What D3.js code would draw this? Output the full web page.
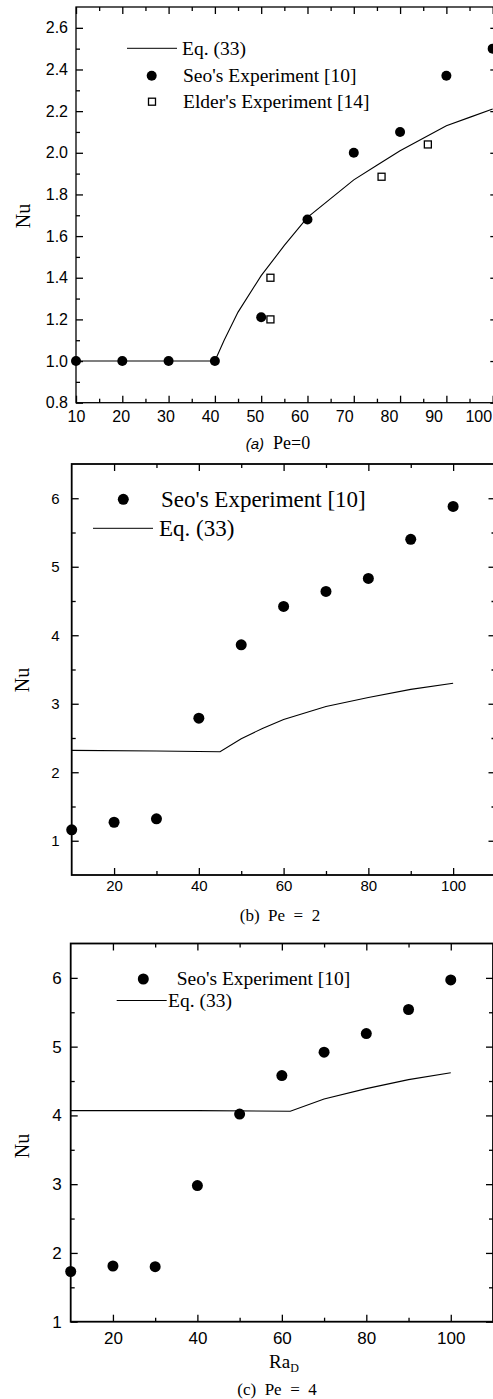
<!DOCTYPE html>
<html>
<head>
<meta charset="utf-8">
<script src="https://cdn.jsdelivr.net/npm/d3@7"></script>
<style>
  body { margin: 0; background: #fff; }
  .serif { font-family: "Liberation Serif", "Times New Roman", serif; }
  .tick text { font-family: "Liberation Sans", Arial, sans-serif; fill: #000; }
</style>
</head>
<body>
<script>
// Values.

// Seo's experiment is sampled at the same Ra_D in all three panels.
var raSeo = [10, 20, 30, 40, 50, 60, 70, 80, 90, 100];

// (a) Pe = 0
var seoA = [1.0, 1.0, 1.0, 1.0, 1.21, 1.68, 2.0, 2.1, 2.37, 2.5];
var elderRaA = [52, 52, 76, 86],
    elderNuA = [1.4, 1.2, 1.885, 2.04];
var eqRaA = [10, 40, 42, 45, 50, 55, 60, 65, 70, 75, 80, 85, 90, 95, 100],
    eqNuA = [1.0, 1.0, 1.1, 1.235, 1.41, 1.555, 1.69, 1.78, 1.87, 1.94, 2.01, 2.07, 2.13, 2.17, 2.21];

// (b) Pe = 2
var seoB = [1.16, 1.27, 1.32, 2.79, 3.86, 4.42, 4.64, 4.83, 5.4, 5.88];
var eqRaB = [10, 30, 45, 50, 55, 60, 70, 80, 90, 100],
    eqNuB = [2.32, 2.31, 2.3, 2.49, 2.64, 2.77, 2.96, 3.09, 3.21, 3.3];

// (c) Pe = 4
var seoC = [1.73, 1.81, 1.8, 2.98, 4.02, 4.58, 4.92, 5.19, 5.54, 5.97];
var eqRaC = [10, 40, 62, 70, 80, 90, 100],
    eqNuC = [4.07, 4.07, 4.06, 4.24, 4.39, 4.52, 4.62];

// Tick values
var xMajorA = [10, 20, 30, 40, 50, 60, 70, 80, 90, 100],
    xMinorA = [15, 25, 35, 45, 55, 65, 75, 85, 95],
    yMajorA = [0.8, 1.0, 1.2, 1.4, 1.6, 1.8, 2.0, 2.2, 2.4, 2.6],
    yMinorA = [0.9, 1.1, 1.3, 1.5, 1.7, 1.9, 2.1, 2.3, 2.5];
var xMajorBC = [20, 40, 60, 80, 100],
    xMinorBC = [30, 50, 70, 90],
    yMajorBC = [1, 2, 3, 4, 5, 6],
    yMinorB = [1.5, 2.5, 3.5, 4.5, 5.5],
    yMinorC = [1.5, 2.5, 3.5, 4.5, 5.5];

function pairs(xs, ys) {
  return xs.map(function(x, i) { return [x, ys[i]]; });
}

// Panel layouts (pixel positions only, data comes from the arrays above).
var panels = [
  {
    xDom: [10, 101], xRange: [76, 497.3],
    yDom: [0.8, 2.7], yRange: [402.7, 7],
    xMajor: xMajorA, xMinor: xMinorA, yMajor: yMajorA, yMinor: yMinorA,
    yFmt: d3.format('.1f'), tickFont: 16, xPad: 8, yPad: 8, r: 5, frame: 1.3,
    // the scanned labels drift left of their ticks a little
    labelDx: function(d) { return -(d - 10) * 0.16; },
    seo: pairs(raSeo, seoA), elder: pairs(elderRaA, elderNuA), eq: pairs(eqRaA, eqNuA),
    legendFont: 19.5,
    legend: [
      { type: 'line', x: 127, x2: 177, y: 48.3, tx: 182, label: 'Eq. (33)' },
      { type: 'dot', x: 151.7, y: 75.7, tx: 183, label: "Seo's Experiment [10]" },
      { type: 'square', x: 152, y: 101.7, tx: 183, label: "Elder's Experiment [14]" }
    ],
    nu: [23, 216],
    caption: { x: 278, y: 449, italic: '(a)', rest: '  Pe=0', size: 18 }
  },
  {
    xDom: [10, 110], xRange: [71.7, 495.5],
    yDom: [0.5, 6.5], yRange: [875, 464],
    xMajor: xMajorBC, xMinor: xMinorBC, yMajor: yMajorBC, yMinor: yMinorB,
    yFmt: d3.format('d'), tickFont: 15, xPad: 5, yPad: 12, r: 5.5, frame: 1.8,
    seo: pairs(raSeo, seoB), eq: pairs(eqRaB, eqNuB),
    legendFont: 23,
    legend: [
      { type: 'dot', x: 123.3, y: 499.3, tx: 161, label: "Seo's Experiment [10]" },
      { type: 'line', x: 93, x2: 153, y: 528.3, tx: 159, label: 'Eq. (33)' }
    ],
    nu: [22, 680],
    caption: { x: 280, y: 921, text: '(b)  Pe  =  2', size: 17 }
  },
  {
    xDom: [10, 110], xRange: [70.7, 493],
    yDom: [1, 6.5], yRange: [1321.7, 943.5],
    xMajor: xMajorBC, xMinor: xMinorBC, yMajor: yMajorBC, yMinor: yMinorC,
    yFmt: d3.format('d'), tickFont: 17, xPad: 10, yPad: 9, r: 5.5, frame: 1.8,
    seo: pairs(raSeo, seoC), eq: pairs(eqRaC, eqNuC),
    legendFont: 19.5,
    legend: [
      { type: 'dot', x: 143.3, y: 979, tx: 176.7, label: "Seo's Experiment [10]" },
      { type: 'line', x: 116.7, x2: 166.7, y: 1000.5, tx: 168, label: 'Eq. (33)' }
    ],
    nu: [22, 1146],
    xLabel: { x: 284, y: 1368 },
    caption: { x: 277, y: 1395, text: '(c)  Pe  =  4', size: 17 }
  }
];

var svg = d3.select('body').append('svg')
  .attr('width', 493)
  .attr('height', 1399)
  .style('background', '#fff');

panels.forEach(function(p) {
  var x = d3.scaleLinear().domain(p.xDom).range(p.xRange),
      y = d3.scaleLinear().domain(p.yDom).range(p.yRange);

  var x0 = p.xRange[0], x1 = p.xRange[1],
      y0 = p.yRange[0], y1 = p.yRange[1];

  var g = svg.append('g');

  // the frame
  g.append('rect')
    .attr('x', x0).attr('y', y1)
    .attr('width', x1 - x0).attr('height', y0 - y1)
    .attr('fill', 'none').attr('stroke', '#000').attr('stroke-width', p.frame);

  // ticks all point inward; labels only on bottom and left
  function ax(axis, tx, ty, vals, size, fmt, pad) {
    var a = g.append('g')
      .attr('transform', 'translate(' + tx + ',' + ty + ')')
      .call(axis.tickValues(vals).tickSize(size).tickPadding(pad || 0)
        .tickFormat(fmt || ''));
    a.select('.domain').remove();
    a.selectAll('line').attr('stroke', '#000').attr('stroke-width', 1.3);
    a.selectAll('text').style('font-size', p.tickFont + 'px');
    return a;
  }

  var bottom = ax(d3.axisBottom(x), 0, y0, p.xMajor, -7, d3.format('d'), p.xPad);
  if (p.labelDx) bottom.selectAll('text').attr('dx', p.labelDx);
  ax(d3.axisBottom(x), 0, y0, p.xMinor, -4);
  ax(d3.axisTop(x), 0, y1, p.xMajor, -7);
  ax(d3.axisTop(x), 0, y1, p.xMinor, -4);
  ax(d3.axisLeft(y), x0, 0, p.yMajor, -7, p.yFmt, p.yPad);
  ax(d3.axisLeft(y), x0, 0, p.yMinor, -4);
  ax(d3.axisRight(y), x1, 0, p.yMajor, -7);
  ax(d3.axisRight(y), x1, 0, p.yMinor, -4);

  // Eq. (33) curve
  var line = d3.line()
    .x(function(d) { return x(d[0]); })
    .y(function(d) { return y(d[1]); });

  g.append('path')
    .datum(p.eq)
    .attr('d', line)
    .attr('fill', 'none')
    .attr('stroke', '#000')
    .attr('stroke-width', 1.1);

  // Elder's experiment (open squares)
  if (p.elder) {
    g.selectAll('rect.elder')
      .data(p.elder)
      .enter().append('rect')
      .attr('class', 'elder')
      .attr('x', function(d) { return x(d[0]) - 3.5; })
      .attr('y', function(d) { return y(d[1]) - 3.5; })
      .attr('width', 7).attr('height', 7)
      .attr('fill', '#fff').attr('stroke', '#000').attr('stroke-width', 1.3);
  }

  // Seo's experiment (filled circles)
  g.selectAll('circle.seo')
    .data(p.seo)
    .enter().append('circle')
    .attr('class', 'seo')
    .attr('cx', function(d) { return x(d[0]); })
    .attr('cy', function(d) { return y(d[1]); })
    .attr('r', p.r)
    .attr('fill', '#000');

  // legend
  p.legend.forEach(function(l) {
    if (l.type === 'line') {
      g.append('line')
        .attr('x1', l.x).attr('x2', l.x2).attr('y1', l.y).attr('y2', l.y)
        .attr('stroke', '#000').attr('stroke-width', 1);
    } else if (l.type === 'dot') {
      g.append('circle').attr('cx', l.x).attr('cy', l.y).attr('r', p.r).attr('fill', '#000');
    } else {
      g.append('rect')
        .attr('x', l.x - 3.5).attr('y', l.y - 3.5).attr('width', 7).attr('height', 7)
        .attr('fill', '#fff').attr('stroke', '#000').attr('stroke-width', 1.3);
    }
    g.append('text')
      .attr('class', 'serif')
      .attr('x', l.tx)
      .attr('y', l.y + p.legendFont * 0.33)
      .style('font-size', p.legendFont + 'px')
      .text(l.label);
  });

  // y axis title
  g.append('text')
    .attr('class', 'serif')
    .attr('transform', 'translate(' + (p.nu[0] + 7) + ',' + p.nu[1] + ') rotate(-90)')
    .attr('text-anchor', 'middle')
    .style('font-size', '20px')
    .text('Nu');

  // x axis title (bottom panel only)
  if (p.xLabel) {
    var t = g.append('text')
      .attr('class', 'serif')
      .attr('x', p.xLabel.x)
      .attr('y', p.xLabel.y)
      .attr('text-anchor', 'middle')
      .style('font-size', '19px');
    t.append('tspan').text('Ra');
    t.append('tspan').attr('dy', 4).style('font-size', '12px').text('D');
  }

  // caption under each panel
  var c = g.append('text')
    .attr('class', 'serif')
    .attr('x', p.caption.x)
    .attr('y', p.caption.y)
    .attr('text-anchor', 'middle')
    .attr('xml:space', 'preserve')
    .style('white-space', 'pre')
    .style('font-size', p.caption.size + 'px');
  if (p.caption.italic) {
    c.append('tspan')
      .style('font-family', '"Liberation Sans", Arial, sans-serif')
      .style('font-style', 'italic')
      .style('font-size', '15px')
      .text(p.caption.italic);
    c.append('tspan').text(p.caption.rest);
  } else {
    c.text(p.caption.text);
  }
});
</script>
</body>
</html>
